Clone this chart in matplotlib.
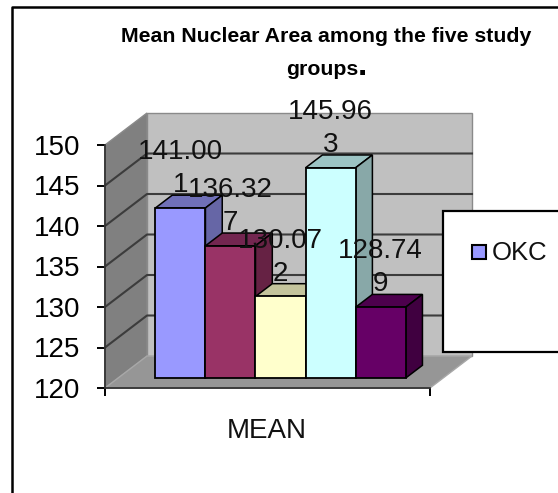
import matplotlib
matplotlib.use("Agg")
import matplotlib.pyplot as plt
from matplotlib.lines import Line2D
from matplotlib.patches import Polygon, Rectangle

plt.rcParams['font.family'] = ['Liberation Sans', 'DejaVu Sans']

# data
values = [141.001, 136.327, 130.072, 145.963, 128.749]
labels = ["141.00\n1", "136.32\n7", "130.07\n2", "145.96\n3", "128.74\n9"]
yticks = [120, 125, 130, 135, 140, 145, 150]
category = "MEAN"
series_name = "OKC"
title1 = "Mean Nuclear Area among the five study"
title2 = "groups"
front_cols = ["#9999FF", "#993366", "#FFFFCC", "#CCFFFF", "#660066"]
top_cols = ["#7070B8", "#732650", "#C4C49C", "#9CC4C4", "#4D004D"]
side_cols = ["#6666A6", "#662244", "#A8A888", "#88A8A8", "#400040"]

W, H = 558, 493
fig = plt.figure(figsize=(W / 100, H / 100), dpi=100, facecolor="white")
ax = fig.add_axes([105 / W, 1 - 388 / H, 325 / W, 243 / H])
ax.set_xlim(0, 1)
ax.set_ylim(120, 150)
ax.patch.set_visible(False)

# depth of the fake 3d box, in data units
DX = 42 / 325
DY = 32 / 8.1


def shift(x, y, d):
    return (x + DX * d, y + DY * d)


# walls and floor
ax.add_patch(Polygon([shift(0, 120, 1), shift(1, 120, 1), shift(1, 150, 1), shift(0, 150, 1)],
                     fc="#C0C0C0", ec="#8A8A8A", lw=1.0, clip_on=False, zorder=1))
ax.add_patch(Polygon([(0, 120), shift(0, 120, 1), shift(0, 150, 1), (0, 150)],
                     fc="#808080", ec="#8A8A8A", lw=1.0, clip_on=False, zorder=1))
ax.add_patch(Polygon([(0, 120), (1, 120), shift(1, 120, 1), shift(0, 120, 1)],
                     fc="#969696", ec="#A8A8A8", lw=1.0, clip_on=False, zorder=1))

# gridlines go round the back and side wall
for t in yticks[1:-1]:
    xs = [0, DX, 1 + DX]
    ys = [t, t + DY, t + DY]
    ax.plot(xs, ys, color="#3C3C3C", lw=1.5, clip_on=False, zorder=2)

# bars
x0 = 0.115
w = 0.154
d0 = 0.31
d1 = 0.71
for i, v in enumerate(values):
    left = x0 + i * w
    right = left + w
    z = 3 + i
    fx, fy = shift(left, 120, d0)
    ax.bar(fx, v - 120, width=w, bottom=fy, align="edge", color=front_cols[i],
           edgecolor="black", lw=1.3, clip_on=False, zorder=z + 0.2)
    ax.add_patch(Polygon([shift(left, v, d0), shift(right, v, d0), shift(right, v, d1), shift(left, v, d1)],
                         fc=top_cols[i], ec="black", lw=1.1, clip_on=False, zorder=z))
    ax.add_patch(Polygon([shift(right, 120, d0), shift(right, 120, d1), shift(right, v, d1), shift(right, v, d0)],
                         fc=side_cols[i], ec="black", lw=1.1, clip_on=False, zorder=z))
    ax.annotate(labels[i], (fx + w / 2, fy + v - 120), xytext=(0, 7), textcoords="offset points",
                ha="center", va="bottom", fontsize=20, linespacing=1.35, color="#111111",
                zorder=20, annotation_clip=False)

# axes
ax.set_yticks(yticks)
ax.set_xticks([0, 1])
ax.set_xticklabels(["", ""])
ax.tick_params(axis="both", direction="out", length=5.8, width=1.4, color="black", labelsize=20, pad=12)
for s in ["top", "right"]:
    ax.spines[s].set_visible(False)
for s in ["left", "bottom"]:
    ax.spines[s].set_linewidth(1.3)
    ax.spines[s].set_color("#333333")
    ax.spines[s].set_zorder(2.5)
fig.text(267 / W, 1 - 431 / H, category, ha="center", va="center", fontsize=20, color="#111111")

# title
fig.text(326 / W, 1 - 42 / H, title1, ha="center", va="baseline", fontsize=15.3, fontweight="bold")
fig.text(322 / W, 1 - 75 / H, title2, ha="center", va="baseline", fontsize=15.3, fontweight="bold")
fig.text(358 / W, 1 - 75 / H, ".", ha="left", va="baseline", fontsize=24, fontweight="bold")

# legend box, runs off the right edge
fig.add_artist(Rectangle((443 / W, 1 - 352 / H), 130 / W, 141 / H, transform=fig.transFigure,
                         fc="white", ec="black", lw=1.6, zorder=30))
fig.add_artist(Rectangle((472 / W, 1 - 259 / H), 14 / W, 14 / H, transform=fig.transFigure,
                         fc=front_cols[0], ec="black", lw=1.5, zorder=31))
fig.text(492 / W, 1 - 253 / H, series_name, ha="left", va="center", fontsize=18.5, color="#111111", zorder=31)

# outer frame, only left and top fall inside the picture
fig.add_artist(Line2D([12 / W, 12 / W, 1], [0, 1 - 7 / H, 1 - 7 / H], color="black", lw=1.8, zorder=40))

fig.savefig("out.png", dpi=100)
